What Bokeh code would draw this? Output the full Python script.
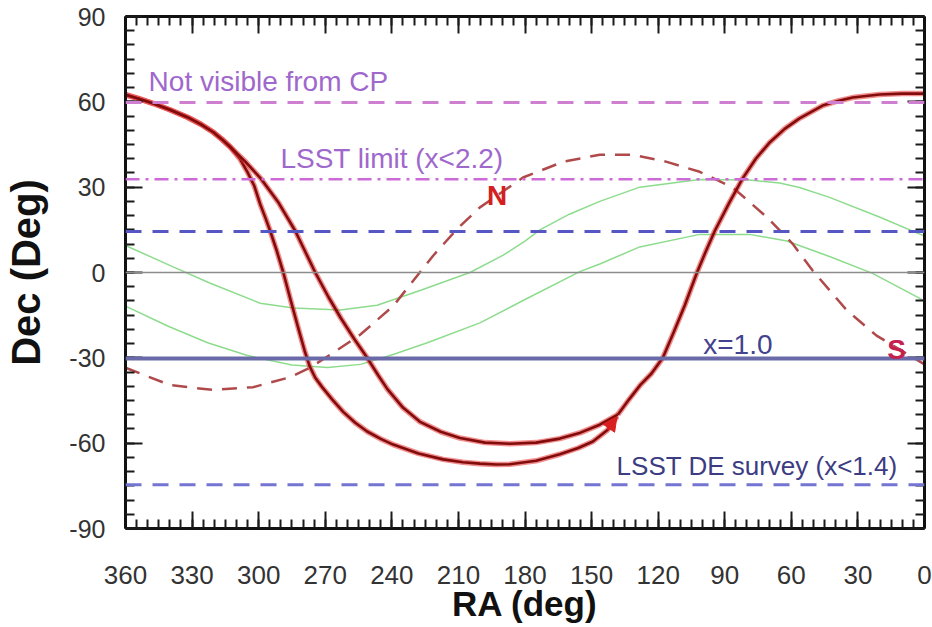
from bokeh.plotting import figure
from bokeh.models import (Range1d, LinearAxis, FixedTicker, Label,
                          Span, Arrow, NormalHead, CustomLabelingPolicy)
from bokeh.embed import file_html
from bokeh.resources import INLINE

# ---------------- data ----------------
ra_ticks = [360, 330, 300, 270, 240, 210, 180, 150, 120, 90, 60, 30, 0]
ra_tick_labels = ["360", "330", "300", "270", "240", "210", "180", "150",
                  "120", "90", "60", "30", "0"]
dec_ticks = [-90, -60, -30, 0, 30, 60, 90]
dec_tick_labels = ["-90", "-60", "-30", "0", "30", "60", "90"]
ra_minor = list(range(0, 361, 5))
dec_minor = list(range(-90, 91, 5))

# horizontal limits (Dec, deg)
dec_not_visible = 59.8
dec_lsst_limit = 32.8
dec_de_north = 14.4
dec_de_south = -74.6
dec_airmass1 = -30.2
dec_equator = 0.0

# solid red path, lower branch (ends at arrow)
ra_lower = [360, 354, 347.4, 340, 332.1, 326, 320.4, 316.5, 312.8, 308.5,
            305.1, 302, 299.3, 297, 294.8, 292, 288.9, 285.5, 282, 279.3,
            277, 274.5, 271.4, 267, 261.9, 256.5, 251.1, 245, 239.4, 228,
            216.9, 208, 200.3, 193, 186.8, 175, 164.3, 156, 149.4, 142.7,
            138.6]
dec_lower = [62.5, 61.1, 59.4, 57.2, 54.6, 52.1, 49.3, 46.8, 44.1, 40.0,
             35.4, 30.5, 24.0, 19.3, 14.6, 8.0, 0.0, -10.0, -20.0, -27.5,
             -33.0, -37.0, -40.3, -44.5, -49.0, -52.8, -55.9, -58.5, -60.5,
             -63.6, -65.7, -66.7, -67.2, -67.5, -67.4, -66.2, -63.9, -61.7,
             -59.4, -55.3, -50.7]

# solid red path, upper branch
ra_upper = [360, 354, 347.4, 340, 332.1, 326, 320.4, 316.5, 312.8, 306,
            299.0, 291, 283.5, 279, 274.5, 268.5, 263, 257, 251.1, 246,
            242, 235, 227.3, 218, 209.3, 198, 186.8, 175, 164.3, 155,
            146.3, 138.2]
dec_upper = [62.5, 61.1, 59.4, 57.2, 54.6, 52.1, 49.3, 46.8, 44.1, 39.0,
             33.0, 24.5, 14.6, 7.3, 0.0, -8.7, -16.0, -23.3, -30.0, -36.3,
             -41.0, -47.5, -52.5, -56.0, -58.2, -59.8, -60.2, -59.8, -58.4,
             -56.3, -53.5, -50.0]

# solid red path, rising branch
ra_rise = [138.2, 133, 128, 123, 120.5, 117.9, 113, 108, 102.5, 98.5,
           94.5, 88, 82, 76, 70, 63, 56.3, 45.9, 39, 32.4, 20.3, 10, 0]
dec_rise = [-50.0, -44.5, -39.5, -35.5, -32.8, -30.0, -21.0, -11.5, 0.0,
            7.5, 14.6, 24.5, 33.0, 40.0, 45.5, 50.5, 54.2, 58.7, 60.3,
            61.5, 62.6, 62.9, 62.9]

# dashed red track
ra_track = [360, 339.8, 320.4, 302.4, 285.8, 276.8, 266, 254.3, 239.4,
            221.4, 210.6, 200.3, 180.9, 162.9, 146.3, 131.4, 116.1, 101.3,
            86.4, 71.1, 59.4, 50.4, 35.1, 21.6, 0]
dec_track = [-33.5, -39.6, -41.3, -40.3, -36.8, -33.4, -28.0, -21.9, -11.8,
             5.9, 15.3, 22.9, 33.4, 38.9, 41.4, 41.4, 38.9, 35.4,
             29.9, 19.5, 10.1, 0.7, -13.2, -22.2, -32.3]

# green bands
ra_band_n = [360, 339.8, 321.8, 299.3, 284.4, 263.3, 246.6, 227.3, 204.8,
             190.0, 180.0, 173.3, 160.0, 146.3, 128.3, 101.3, 78.8, 65.3,
             56.3, 42.8, 20.3, 0]
dec_band_n = [9.5, 2.4, -3.8, -10.8, -12.5, -13.2, -11.5, -6.3, 0.0,
              6.0, 11.0, 15.0, 20.5, 25.0, 30.0, 32.7, 32.5, 31.5,
              29.9, 26.4, 19.5, 12.8]
ra_band_s = [360, 341.0, 323.0, 305.0, 285.0, 269.0, 254.0, 239.4, 224.0,
             200.3, 180.0, 155.3, 146.3, 128.3, 101.3, 78.8, 62.0, 42.8,
             23.4, 0]
dec_band_s = [-11.8, -18.8, -24.7, -29.2, -32.5, -33.4, -32.3, -28.8, -24.7,
              -17.7, -9.5, 0.3, 3.0, 9.0, 13.4, 13.4, 11.1, 5.6,
              -0.3, -10.0]

# ---------------- figure ----------------
p = figure(width=932, height=627, x_range=Range1d(360, 0),
           y_range=Range1d(-90, 90), output_backend="svg",
           toolbar_location=None, x_axis_type=None, y_axis_type=None,
           min_border_left=125, min_border_right=8, min_border_top=16,
           min_border_bottom=99)
p.outline_line_color = None
p.background_fill_color = "white"
p.border_fill_color = "white"
p.grid.visible = False

FONT = "Liberation Sans"
TICK_COLOR = "#333333"


def hide_labels(ax):
    ax.major_label_policy = CustomLabelingPolicy(
        code="for (const i of indices) { indices.unset(i) }\nreturn indices")
    ax.major_label_text_font_size = "1px"
    ax.major_label_standoff = 0


def style_axis(ax, ticks, minor):
    ax.ticker = FixedTicker(ticks=ticks, minor_ticks=minor)
    ax.major_tick_in = 17
    ax.major_tick_out = 0
    ax.minor_tick_in = 9
    ax.minor_tick_out = 0
    ax.major_tick_line_width = 2
    ax.minor_tick_line_width = 2
    ax.major_tick_line_color = "#1a1a1a"
    ax.minor_tick_line_color = "#1a1a1a"
    ax.axis_line_width = 3
    ax.axis_line_color = "#111111"


xb = LinearAxis(axis_label="RA (deg)")
style_axis(xb, ra_ticks, ra_minor)
xb.major_label_overrides = dict(zip(ra_ticks, ra_tick_labels))
xb.major_label_text_font = FONT
xb.major_label_text_font_size = "26px"
xb.major_label_text_color = TICK_COLOR
xb.major_label_standoff = 37
xb.axis_label_standoff = -3
xb.axis_label_text_font = FONT
xb.axis_label_text_font_style = "bold"
xb.axis_label_text_font_size = "35px"
xb.axis_label_text_color = "#111111"
p.add_layout(xb, "below")

yl = LinearAxis(axis_label="Dec (Deg)")
style_axis(yl, dec_ticks, dec_minor)
yl.major_label_overrides = dict(zip(dec_ticks, dec_tick_labels))
yl.major_label_text_font = FONT
yl.major_label_text_font_size = "25px"
yl.major_label_text_color = TICK_COLOR
yl.major_label_standoff = 20
yl.axis_label_standoff = 18
yl.axis_label_text_font = FONT
yl.axis_label_text_font_style = "bold"
yl.axis_label_text_font_size = "40px"
yl.axis_label_text_color = "#111111"
p.add_layout(yl, "left")

xa = LinearAxis()
style_axis(xa, ra_ticks, ra_minor)
hide_labels(xa)
p.add_layout(xa, "above")
yr = LinearAxis()
style_axis(yr, dec_ticks, dec_minor)
hide_labels(yr)
p.add_layout(yr, "right")

# ---------------- horizontal limits ----------------
p.add_layout(Span(location=dec_equator, dimension="width",
                  line_color="#8c8c8c", line_width=1.3))
p.add_layout(Span(location=dec_not_visible, dimension="width",
                  line_color="#cf7fd0", line_width=3, line_dash="16 11"))
p.add_layout(Span(location=dec_lsst_limit, dimension="width",
                  line_color="#cc6ad8", line_width=2.5,
                  line_dash="14 6 3 6"))
p.add_layout(Span(location=dec_de_north, dimension="width",
                  line_color="#5656c4", line_width=3, line_dash="16 11"))
p.add_layout(Span(location=dec_de_south, dimension="width",
                  line_color="#7474d2", line_width=3, line_dash="16 11"))

# green bands
p.line(ra_band_n, dec_band_n, line_color="#8ddc8d", line_width=1.5)
p.line(ra_band_s, dec_band_s, line_color="#8ddc8d", line_width=1.5)

p.add_layout(Span(location=dec_airmass1, dimension="width",
                  line_color="#6a6aa8", line_width=4))

# dashed track
p.line(ra_track, dec_track, line_color="#b04a4a", line_width=2.5,
       line_dash="15 10")

# solid red paths (halo + core)
for xs, ys in [(ra_lower, dec_lower), (ra_upper, dec_upper),
               (ra_rise, dec_rise)]:
    p.line(xs, ys, line_color="#e53030", line_width=5.5, line_alpha=0.55,
           line_join="round")
    p.line(xs, ys, line_color="#820c0c", line_width=2.6, line_join="round")

p.add_layout(Arrow(end=NormalHead(size=14, fill_color="#d82020",
                                  line_color="#d82020"),
                   x_start=ra_lower[-2], y_start=dec_lower[-2],
                   x_end=ra_lower[-1], y_end=dec_lower[-1],
                   line_color="#d82020", line_width=3))

# ---------------- text ----------------
purple = "#9f68cc"
p.add_layout(Label(x=349.6, y=67.1, text="Not visible from CP",
                   text_align="left", text_baseline="middle",
                   text_font=FONT, text_font_size="28px", text_color=purple))
p.add_layout(Label(x=290.2, y=40.0, text="LSST limit (x<2.2)",
                   text_align="left", text_baseline="middle",
                   text_font=FONT, text_font_size="28px", text_color=purple))
p.add_layout(Label(x=192.6, y=27.1, text="N", text_align="center",
                   text_baseline="middle", text_font=FONT,
                   text_font_style="bold", text_font_size="28px",
                   text_color="#d42020"))
p.add_layout(Label(x=12.6, y=-27.1, text="S", text_align="center",
                   text_baseline="middle", text_font=FONT,
                   text_font_style="bold", text_font_size="28px",
                   text_color="#c42050"))
p.add_layout(Label(x=84.1, y=-25.4, text="x=1.0", text_align="center",
                   text_baseline="middle", text_font=FONT,
                   text_font_size="28px", text_color="#42428e"))
p.add_layout(Label(x=12.1, y=-68.1, text="LSST DE survey (x<1.4)",
                   text_align="right", text_baseline="middle",
                   text_font=FONT, text_font_size="26px",
                   text_color="#3c3c82"))

open("out.html", "w").write(file_html(p, INLINE))
